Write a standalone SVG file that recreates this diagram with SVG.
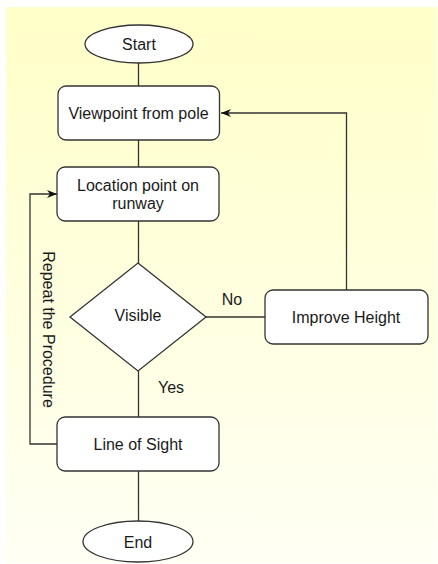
<svg xmlns="http://www.w3.org/2000/svg" width="438" height="564" viewBox="0 0 438 564">
<defs>
<linearGradient id="bg" x1="0" y1="0" x2="0" y2="1">
<stop offset="0" stop-color="#FFFFC8"/>
<stop offset="1" stop-color="#FFFFF4"/>
</linearGradient>
<marker id="arr" viewBox="0 0 10 8" refX="10" refY="4" markerWidth="10" markerHeight="8" markerUnits="userSpaceOnUse" orient="auto">
<path d="M0,0 L10,4 L0,8 L3,4 Z" fill="#111"/>
</marker>
<style>
.n{fill:#fff;stroke:#333;stroke-width:1.3}
.t{font-family:"Liberation Sans",Arial,sans-serif;font-size:16px;fill:#1a1a1a;text-anchor:middle}
.c{fill:none;stroke:#333;stroke-width:1.3}
</style>
</defs>
<rect x="6" y="7" width="431" height="556" fill="url(#bg)"/>
<g id="connectors">
<line class="c" x1="138.5" y1="63" x2="138.5" y2="86"/>
<line class="c" x1="138.5" y1="140" x2="138.5" y2="167"/>
<line class="c" x1="138.5" y1="221" x2="138.5" y2="263"/>
<line class="c" x1="138.5" y1="371" x2="138.5" y2="417"/>
<line class="c" x1="138.5" y1="471" x2="138.5" y2="521"/>
<line class="c" x1="206" y1="317" x2="265" y2="317"/>
<polyline class="c" points="346.5,290 346.5,113 221,113" marker-end="url(#arr)"/>
<polyline class="c" points="57,444 30,444 30,194 57,194" marker-end="url(#arr)"/>
<text class="t" x="232" y="305">No</text>
<text class="t" x="171" y="393">Yes</text>
<text class="t" transform="translate(43,329.5) rotate(90)">Repeat the Procedure</text>
</g>
<g id="start">
<ellipse class="n" cx="139" cy="44" rx="54" ry="19"/>
<text class="t" x="139" y="50">Start</text>
</g>
<g id="viewpoint">
<rect class="n" x="58" y="86" width="161.5" height="54" rx="8"/>
<text class="t" x="138.5" y="119">Viewpoint from pole</text>
</g>
<g id="location">
<rect class="n" x="57" y="167" width="162" height="54" rx="8"/>
<text class="t" x="138" y="191">Location point on</text>
<text class="t" x="138" y="209">runway</text>
</g>
<g id="visible">
<polygon class="n" points="138,263 206,317 138,371 70,317"/>
<text class="t" x="138" y="321">Visible</text>
</g>
<g id="improve">
<rect class="n" x="265" y="290" width="163" height="54" rx="8"/>
<text class="t" x="346" y="323">Improve Height</text>
</g>
<g id="los">
<rect class="n" x="57" y="417" width="162" height="54" rx="8"/>
<text class="t" x="138" y="450">Line of Sight</text>
</g>
<g id="end">
<ellipse class="n" cx="138" cy="541.5" rx="55" ry="20.5"/>
<text class="t" x="138" y="547.5">End</text>
</g>
</svg>
